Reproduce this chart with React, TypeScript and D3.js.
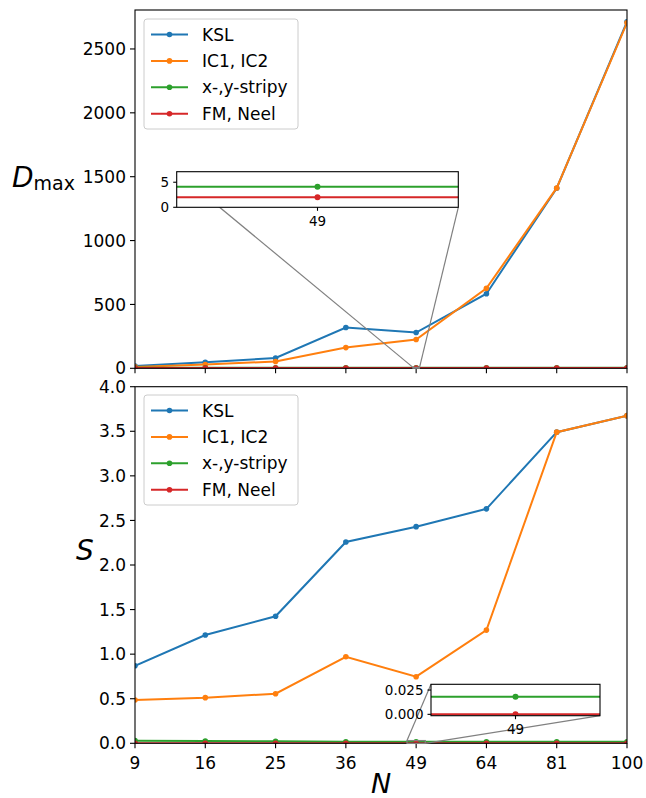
import React from "react";
import * as d3 from "d3";

// N values on the shared categorical x axis
const categories = ["9", "16", "25", "36", "49", "64", "81", "100"];

// D_max per phase
const dmaxKSL = [18, 47, 81, 319, 280, 584, 1410, 2713];
const dmaxIC = [11, 30, 53, 162, 225, 626, 1412, 2705];
const dmaxStripy = [4.1, 4.1, 4.1, 4.1, 4.1, 4.1, 4.1, 4.1];
const dmaxFM = [2, 2, 2, 2, 2, 2, 2, 2];

// entanglement S per phase
const sKSL = [0.87, 1.215, 1.425, 2.258, 2.43, 2.63, 3.49, 3.675];
const sIC = [0.486, 0.512, 0.556, 0.97, 0.747, 1.27, 3.49, 3.675];
const sStripy = [0.03, 0.026, 0.022, 0.018, 0.018, 0.018, 0.018, 0.018];
const sFM = [0, 0, 0, 0, 0, 0, 0, 0];

const seriesNames = ["KSL", "IC1, IC2", "x-,y-stripy", "FM, Neel"];
const colors = ["#1f77b4", "#ff7f0e", "#2ca02c", "#d62728"];

const dmaxTicks = [0, 500, 1000, 1500, 2000, 2500];
const sTicks = [0, 0.5, 1, 1.5, 2, 2.5, 3, 3.5, 4];
const dmaxInsetTicks = [0, 5];
const sInsetTicks = [0, 0.025];

const FONT = "DejaVu Sans, sans-serif";
const W = 646;
const H = 798;
const left = 135;
const right = 627;

type Box = { x0: number; x1: number; y0: number; y1: number };

function Lines({ id, box, xs, ys, series, r = 2.8 }: any) {
    const line = d3
        .line<number>()
        .x((_, i) => xs(i))
        .y((v) => ys(v));
    return (
        <g clipPath={`url(#${id})`}>
            <defs>
                <clipPath id={id}>
                    <rect x={box.x0} y={box.y0} width={box.x1 - box.x0} height={box.y1 - box.y0} />
                </clipPath>
            </defs>
            {series.map((vals: number[], k: number) => (
                <g key={k}>
                    <path d={line(vals) || ""} fill="none" stroke={colors[k]} strokeWidth={2} />
                    {vals.map((v, i) => (
                        <circle key={i} cx={xs(i)} cy={ys(v)} r={r} fill={colors[k]} />
                    ))}
                </g>
            ))}
        </g>
    );
}

function Legend({ x, y }: { x: number; y: number }) {
    return (
        <g>
            <rect x={x} y={y} width={154} height={110} rx={3} fill="white" fillOpacity={0.8} stroke="#cccccc" />
            {seriesNames.map((name, k) => {
                const cy = y + 15.5 + k * 26.4;
                return (
                    <g key={name}>
                        <line x1={x + 7} x2={x + 44} y1={cy} y2={cy} stroke={colors[k]} strokeWidth={2} />
                        <circle cx={x + 25.5} cy={cy} r={2.8} fill={colors[k]} />
                        <text x={x + 58} y={cy + 6} fontSize={17} fontFamily={FONT}>{name}</text>
                    </g>
                );
            })}
        </g>
    );
}

function Frame({ box }: { box: Box }) {
    return (
        <rect x={box.x0} y={box.y0} width={box.x1 - box.x0} height={box.y1 - box.y0} fill="none" stroke="black" strokeWidth={1.1} />
    );
}

function YAxis({ box, ys, ticks, fmt, size = 17, len = 5 }: any) {
    return (
        <g>
            {ticks.map((t: number) => (
                <g key={t}>
                    <line x1={box.x0 - len} x2={box.x0} y1={ys(t)} y2={ys(t)} stroke="black" strokeWidth={1.1} />
                    <text x={box.x0 - len - 4} y={ys(t) + size * 0.36} textAnchor="end" fontSize={size} fontFamily={FONT}>
                        {fmt(t)}
                    </text>
                </g>
            ))}
        </g>
    );
}

function Inset({ id, box, xlim, ylim, yticks, fmt, series, mainX, mainY }: any) {
    const xs = d3.scaleLinear().domain(xlim).range([box.x0, box.x1]);
    const ys = d3.scaleLinear().domain(ylim).range([box.y1, box.y0]);
    const rx0 = mainX(xlim[0]);
    const rx1 = mainX(xlim[1]);
    const ry0 = mainY(ylim[1]);
    const ry1 = mainY(ylim[0]);
    return (
        <g>
            <rect x={rx0} y={ry0} width={rx1 - rx0} height={ry1 - ry0} fill="none" stroke="#808080" strokeWidth={1.2} />
            <line x1={box.x0} y1={box.y0} x2={rx0} y2={ry0} stroke="#808080" strokeWidth={1.2} />
            <line x1={box.x1} y1={box.y1} x2={rx1} y2={ry1} stroke="#808080" strokeWidth={1.2} />
            <rect x={box.x0} y={box.y0} width={box.x1 - box.x0} height={box.y1 - box.y0} fill="white" />
            <Lines id={id} box={box} xs={xs} ys={ys} series={series} r={3} />
            <Frame box={box} />
            <YAxis box={box} ys={ys} ticks={yticks} fmt={fmt} size={13.5} len={3.5} />
            <line x1={xs(4)} x2={xs(4)} y1={box.y1} y2={box.y1 + 3.5} stroke="black" strokeWidth={1.1} />
            <text x={xs(4)} y={box.y1 + 18.5} textAnchor="middle" fontSize={13.5} fontFamily={FONT}>
                {categories[4]}
            </text>
        </g>
    );
}

export default function App() {
    const topBox: Box = { x0: left, x1: right, y0: 10, y1: 368.3 };
    const botBox: Box = { x0: left, x1: right, y0: 386.7, y1: 743.3 };

    const x = d3.scaleLinear().domain([0, categories.length - 1]).range([left, right]);
    const yTop = d3.scaleLinear().domain([0, 2805]).range([topBox.y1, topBox.y0]);
    const yBot = d3.scaleLinear().domain([0, 4]).range([botBox.y1, botBox.y0]);

    const topSeries = [dmaxKSL, dmaxIC, dmaxStripy, dmaxFM];
    const botSeries = [sKSL, sIC, sStripy, sFM];

    return (
        <svg width={W} height={H} style={{ display: "block", position: "absolute", left: 0, top: 0, background: "white" }}>
            <rect width={W} height={H} fill="white" />

            {/* top panel: D_max */}
            <Lines id="clipTop" box={topBox} xs={x} ys={yTop} series={topSeries} />
            <Frame box={topBox} />
            <YAxis box={topBox} ys={yTop} ticks={dmaxTicks} fmt={(t: number) => String(t)} />
            {categories.map((c, i) => (
                <line key={c} x1={x(i)} x2={x(i)} y1={topBox.y1} y2={topBox.y1 + 5} stroke="black" strokeWidth={1.1} />
            ))}
            <Legend x={144} y={19} />
            <Inset
                id="clipTopInset"
                box={{ x0: 176.7, x1: 458.3, y0: 171.7, y1: 207.3 }}
                xlim={[3.955, 4.045]}
                ylim={[0, 7.1]}
                yticks={dmaxInsetTicks}
                fmt={(t: number) => String(t)}
                series={topSeries}
                mainX={x}
                mainY={yTop}
            />
            <text x={12} y={187} fontSize={28} fontFamily={FONT}>
                <tspan fontStyle="italic">D</tspan>
                <tspan fontSize={19} dy={3}>max</tspan>
            </text>

            {/* bottom panel: S */}
            <Lines id="clipBot" box={botBox} xs={x} ys={yBot} series={botSeries} />
            <Frame box={botBox} />
            <YAxis box={botBox} ys={yBot} ticks={sTicks} fmt={d3.format(".1f")} />
            {categories.map((c, i) => (
                <g key={c}>
                    <line x1={x(i)} x2={x(i)} y1={botBox.y1} y2={botBox.y1 + 5} stroke="black" strokeWidth={1.1} />
                    <text x={x(i)} y={botBox.y1 + 26} textAnchor="middle" fontSize={17} fontFamily={FONT}>{c}</text>
                </g>
            ))}
            <Legend x={144} y={395} />
            <Inset
                id="clipBotInset"
                box={{ x0: 431, x1: 600, y0: 684.3, y1: 715.7 }}
                xlim={[3.87, 4.13]}
                ylim={[-0.0014, 0.0309]}
                yticks={sInsetTicks}
                fmt={d3.format(".3f")}
                series={botSeries}
                mainX={x}
                mainY={yBot}
            />
            <text x={76} y={560} fontSize={28} fontStyle="italic" fontFamily={FONT}>S</text>
            <text x={381} y={793} textAnchor="middle" fontSize={27} fontStyle="italic" fontFamily={FONT}>N</text>
        </svg>
    );
}
